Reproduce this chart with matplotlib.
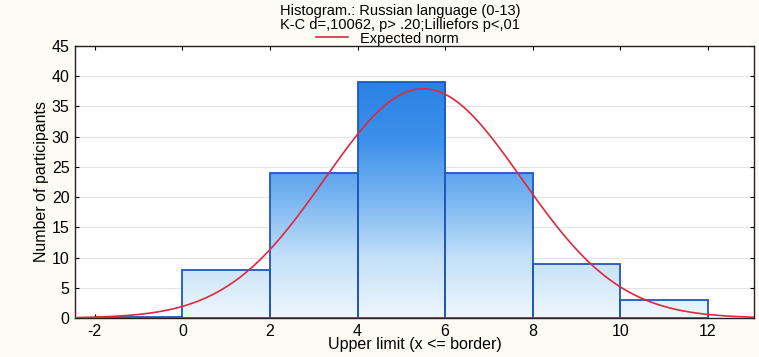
import numpy as np
import matplotlib.pyplot as plt
from matplotlib.colors import LinearSegmentedColormap

# histogram data (bin edges and counts)
bin_left = [-2, 0, 2, 4, 6, 8, 10]
bin_width = 2
counts = [0.2, 8, 24, 39, 24, 9, 3]
# fitted normal curve parameters
norm_mean = 5.5
norm_sd = 2.25
n_total = 107

plt.rcParams['font.family'] = ['Liberation Sans', 'DejaVu Sans']
plt.rcParams['axes.unicode_minus'] = False

fig = plt.figure(figsize=(7.59, 3.57), dpi=100, facecolor='#fcfcf4')
ax = fig.add_axes([75 / 759, 39 / 357, 679 / 759, 272 / 357])

# colour depends on absolute height, so tall bars get darker tops
cmap = LinearSegmentedColormap.from_list('bl', ['#eef7fd', '#c4e1f8', '#7ab6f1', '#3d91ea', '#2a82e4'])
grad = np.linspace(0, 1, 256).reshape(-1, 1)
top = max(counts)
for x0, h in zip(bin_left, counts):
    rect = plt.Rectangle((x0, 0), bin_width, h, facecolor='none',
                         edgecolor='#1f57c0', linewidth=1.3, zorder=3)
    ax.add_patch(rect)
    im = ax.imshow(grad, extent=(x0, x0 + bin_width, 0, top), origin='lower',
                   cmap=cmap, aspect='auto', vmin=0, vmax=1, zorder=2)
    im.set_clip_path(rect)

xs = np.linspace(-2.45, 13.05, 400)
ys = n_total * bin_width / (norm_sd * np.sqrt(2 * np.pi)) * np.exp(-(xs - norm_mean) ** 2 / (2 * norm_sd ** 2))
ax.plot(xs, ys, color='#e0283c', linewidth=1.2, zorder=4, label='Expected norm')

ax.set_xlim(-2.45, 13.05)
ax.set_ylim(0, 45)
ax.set_xticks(range(-2, 13, 2))
ax.set_yticks(range(0, 46, 5))
ax.grid(axis='y', color='#e4e4e4', linewidth=0.8, zorder=0)
ax.set_axisbelow(True)
ax.tick_params(axis='both', labelsize=11.5, length=3, direction='in',
               top=True, right=True, pad=4)
for s in ax.spines.values():
    s.set_linewidth(1.0)
    s.set_color('#222222')

ax.set_xlabel('Upper limit (x <= border)', fontsize=11.5, labelpad=-1)
ax.set_ylabel('Number of participants', fontsize=11.5, labelpad=2, fontstretch='condensed')

fig.text(0.527, 1 - 11 / 357, 'Histogram.: Russian language (0-13)', ha='center', va='center', fontsize=10.5)
fig.text(0.527, 1 - 24.5 / 357, 'K-C d=,10062, p> .20;Lilliefors p<,01', ha='center', va='center', fontsize=10.5)
ax.legend(loc='lower center', bbox_to_anchor=(0.46, 0.975), frameon=False, fontsize=10.5,
          handlelength=2.2, borderpad=0, handletextpad=0.8)

fig.savefig('out.png', dpi=100, facecolor=fig.get_facecolor())
